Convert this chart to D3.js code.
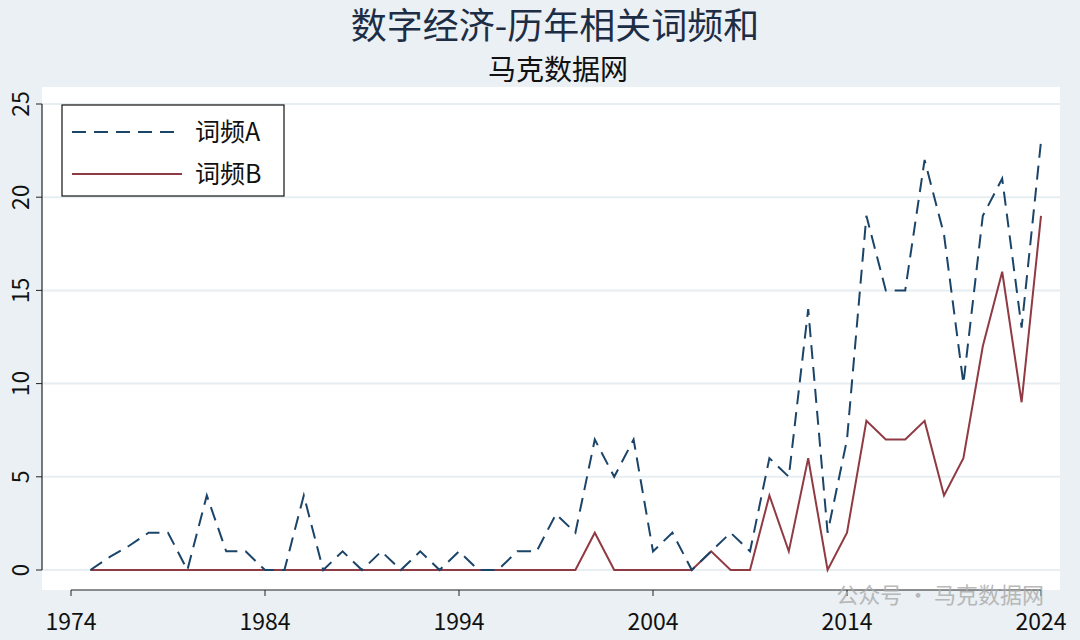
<!DOCTYPE html>
<html><head><meta charset="utf-8">
<script src="https://cdn.jsdelivr.net/npm/d3@7"></script>
<style>body{margin:0;background:#eaf0f3}svg{display:block}</style>
</head><body>
<script>
const years = d3.range(1975, 2025);
const freqA = [0,0.7,1.3,2,2,0,4,1,1,0,0,4,0,1,0,1,0,1,0,1,0,0,1,1,3,2,7,5,7,1,2,0,1,2,1,6,5,14,2,7,19,15,15,22,18,10,19,21,13,23];
const freqB = [0,0,0,0,0,0,0,0,0,0,0,0,0,0,0,0,0,0,0,0,0,0,0,0,0,0,2,0,0,0,0,0,1,0,0,4,1,6,0,2,8,7,7,8,4,6,12,16,9,19];
const xTicks = [1974,1984,1994,2004,2014,2024];
const yTicks = [0,5,10,15,20,25];

const W = 1080, H = 640;
const font = "'Noto Sans CJK SC', 'Liberation Sans', sans-serif";
const svg = d3.select('body').append('svg').attr('width', W).attr('height', H)
  .style('font-family', font);
svg.append('rect').attr('width', W).attr('height', H).attr('fill', '#eaf0f3');

const plot = {l: 42, r: 1060, t: 87, b: 590};
svg.append('rect').attr('x', plot.l).attr('y', plot.t)
  .attr('width', plot.r - plot.l).attr('height', plot.b - plot.t).attr('fill', '#fff');

const x = d3.scaleLinear().domain([1974, 2024]).range([71, 1041]);
const y = d3.scaleLinear().domain([0, 25]).range([570, 104]);

// grid
svg.append('g').selectAll('line').data(yTicks).join('line')
  .attr('x1', plot.l).attr('x2', plot.r)
  .attr('y1', d => y(d)).attr('y2', d => y(d))
  .attr('stroke', '#e6eef2').attr('stroke-width', 2);

// y axis
svg.append('line').attr('x1', plot.l).attr('x2', plot.l)
  .attr('y1', y(0)).attr('y2', y(25)).attr('stroke', '#222').attr('stroke-width', 1.2);
svg.append('g').selectAll('line').data(yTicks).join('line')
  .attr('x1', plot.l - 6).attr('x2', plot.l).attr('y1', d => y(d)).attr('y2', d => y(d))
  .attr('stroke', '#222');
svg.append('g').selectAll('text').data(yTicks).join('text')
  .attr('transform', d => `translate(29,${y(d)}) rotate(-90)`)
  .attr('text-anchor', 'middle').attr('font-size', 23).attr('fill', '#111')
  .text(d => d);

// x axis
svg.append('line').attr('x1', x(1974)).attr('x2', x(2024))
  .attr('y1', plot.b).attr('y2', plot.b).attr('stroke', '#222').attr('stroke-width', 1.2);
svg.append('g').selectAll('line').data(xTicks).join('line')
  .attr('x1', d => x(d)).attr('x2', d => x(d)).attr('y1', plot.b).attr('y2', plot.b + 6)
  .attr('stroke', '#222');
svg.append('g').selectAll('text').data(xTicks).join('text')
  .attr('x', d => x(d)).attr('y', 630).attr('text-anchor', 'middle')
  .attr('font-size', 23).attr('fill', '#111').text(d => d);

const line = d3.line().x((d, i) => x(years[i])).y(d => y(d));
svg.append('path').datum(freqB).attr('d', line).attr('fill', 'none')
  .attr('stroke', '#903a44').attr('stroke-width', 2);
svg.append('path').datum(freqA).attr('d', line).attr('fill', 'none')
  .attr('stroke', '#1b4469').attr('stroke-width', 2).attr('stroke-dasharray', '14,8');

// titles
svg.append('text').attr('x', 555).attr('y', 39).attr('text-anchor', 'middle')
  .attr('font-size', 36).attr('fill', '#1d2d45').text('数字经济-历年相关词频和');
svg.append('text').attr('x', 558).attr('y', 80).attr('text-anchor', 'middle')
  .attr('font-size', 28).attr('fill', '#111').text('马克数据网');

// legend
const lg = svg.append('g');
lg.append('rect').attr('x', 62).attr('y', 105).attr('width', 222).attr('height', 91)
  .attr('fill', '#fff').attr('stroke', '#111').attr('stroke-width', 1.2);
const items = [['词频A', '#1b4469', '14,8'], ['词频B', '#903a44', null]];
items.forEach(([name, c, dash], i) => {
  const yy = 132 + i * 42;
  lg.append('line').attr('x1', 72).attr('x2', 182).attr('y1', yy).attr('y2', yy)
    .attr('stroke', c).attr('stroke-width', 2).attr('stroke-dasharray', dash);
  lg.append('text').attr('x', 195).attr('y', yy + 9).attr('font-size', 25)
    .attr('fill', '#111').text(name);
});

// watermark
svg.append('text').attr('x', 1044).attr('y', 603).attr('text-anchor', 'end').attr('font-size', 22)
  .attr('fill', '#aaa').attr('opacity', 0.8).text('公众号 · 马克数据网');
</script>
</body></html>
